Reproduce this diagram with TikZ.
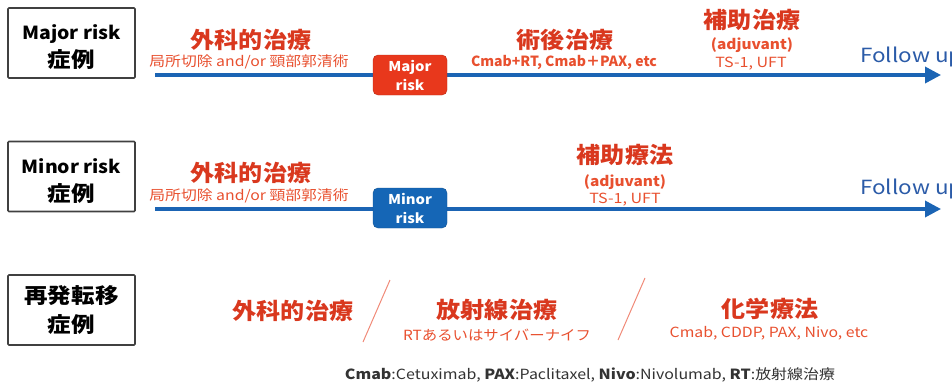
\documentclass[tikz,border=0pt]{standalone}
\usepackage{fontspec}
\usepackage{graphicx}
\setmainfont{Noto Sans CJK JP}
\usetikzlibrary{arrows.meta}
\definecolor{titlered}{HTML}{D9381E}
\definecolor{subred}{HTML}{E8502F}
\definecolor{lineblue}{HTML}{1B64B4}
\definecolor{fublue}{HTML}{2B5BA8}
\definecolor{majfill}{HTML}{E8381C}
\definecolor{minfill}{HTML}{1566B6}
\definecolor{boxgray}{HTML}{404040}
\definecolor{slashc}{HTML}{F08A78}
\definecolor{foot}{HTML}{333333}
\newcommand{\hs}[2]{\scalebox{#1}[1]{#2}}
\tikzset{
  casebox/.style={draw=boxgray, line width=1.6pt, minimum width=127pt, minimum height=70pt, rounded corners=1pt, align=center, text=black, inner sep=0pt, font=\fontsize{20}{27}\selectfont\bfseries},
  title/.style={text=titlered, font=\fontsize{22.5}{24}\selectfont\bfseries, inner sep=0pt},
  sub/.style={text=subred, font=\fontsize{14}{15}\selectfont, inner sep=0pt},
  subb/.style={text=subred, font=\fontsize{14}{15}\selectfont\bfseries, inner sep=0pt},
  timeline/.style={draw=lineblue, line width=3.5pt, -{Triangle[length=16pt,width=16pt]}},
  riskbox/.style={rounded corners=5pt, minimum width=74pt, minimum height=40pt, text=white, align=center, inner sep=0pt, font=\fontsize{13.5}{19}\selectfont\bfseries},
  followup/.style={text=fublue, font=\fontsize{19.5}{22}\selectfont, anchor=west, inner sep=0pt},
  slash/.style={draw=slashc, line width=1pt},
  footnote/.style={text=foot, font=\fontsize{14}{16}\selectfont, inner sep=0pt}
}
\begin{document}
\begin{tikzpicture}[x=1pt, y=-1pt]
\useasboundingbox (0,0) rectangle (952,388);
% ---- Row 1 ----
\node[casebox] (b1) at (71.5,43) {\rule{0pt}{24pt}\fontsize{18}{27}\selectfont\hs{1.08}{Major risk}\\[1pt]\fontsize{21}{27}\selectfont\hs{1.12}{症例}};
\coordinate (s1) at (155,75);
\coordinate (e1) at (941,75);
\draw[timeline] (s1) -- (e1);
\node[riskbox, fill=majfill, draw=majfill!80!black] (r1) at (410,75) {\hs{1.1}{Major}\\\hs{1.1}{risk}};
\node[title] (t11) at (251,40) {\hs{1.07}{外科的治療}};
\node[sub] (s11) at (249,62) {\hs{1.13}{局所切除 and/or 頸部郭清術}};
\node[title] (t12) at (565,40) {\hs{1.07}{術後治療}};
\node[subb] (s12) at (564,62) {\hs{1.0}{Cmab+RT, Cmab＋PAX, etc}};
\node[title] (t13) at (752,20) {\hs{1.07}{補助治療}};
\node[subb] (a13) at (752,45) {\hs{1.1}{(adjuvant)}};
\node[sub] (s13) at (751,64) {\hs{1.15}{TS-1, UFT}};
\node[followup] (f1) at (860,57) {\hs{1.15}{Follow up}};
% ---- Row 2 ----
\node[casebox] (b2) at (71.5,176.5) {\rule{0pt}{24pt}\fontsize{18}{27}\selectfont\hs{1.08}{Minor risk}\\[1pt]\fontsize{21}{27}\selectfont\hs{1.12}{症例}};
\coordinate (s2) at (155,209);
\coordinate (e2) at (941,209);
\draw[timeline] (s2) -- (e2);
\node[riskbox, fill=minfill, draw=minfill!80!black] (r2) at (410,208) {\hs{1.1}{Minor}\\\hs{1.1}{risk}};
\node[title] (t21) at (251,173) {\hs{1.07}{外科的治療}};
\node[sub] (s21) at (249,196) {\hs{1.13}{局所切除 and/or 頸部郭清術}};
\node[title] (t22) at (625,155) {\hs{1.07}{補助療法}};
\node[subb] (a22) at (625,182) {\hs{1.1}{(adjuvant)}};
\node[sub] (s22) at (625,200) {\hs{1.15}{TS-1, UFT}};
\node[followup] (f2) at (860,189) {\hs{1.15}{Follow up}};
% ---- Row 3 ----
\node[casebox] (b3) at (71.5,310) {\fontsize{21}{30}\selectfont\hs{1.12}{再発転移}\\[2pt]\fontsize{21}{30}\selectfont\hs{1.12}{症例}};
\node[title] (t31) at (293,311) {\hs{1.07}{外科的治療}};
\coordinate (l1a) at (390,280);
\coordinate (l1b) at (363,342);
\draw[slash] (l1a) -- (l1b);
\node[title] (t32) at (497,310) {\hs{1.07}{放射線治療}};
\node[sub] (s32) at (497,335) {\hs{1.1}{RTあるいはサイバーナイフ}};
\coordinate (l2a) at (645,278);
\coordinate (l2b) at (618,340);
\draw[slash] (l2a) -- (l2b);
\node[title] (t33) at (770,309) {\hs{1.07}{化学療法}};
\node[sub] (s33) at (769,333) {\hs{1.13}{Cmab, CDDP, PAX, Nivo, etc}};
\node[footnote] (fn) at (590,375) {\hs{1.14}{\textbf{Cmab}:Cetuximab, \textbf{PAX}:Paclitaxel, \textbf{Nivo}:Nivolumab, \textbf{RT}:放射線治療}};
\end{tikzpicture}
\end{document}
